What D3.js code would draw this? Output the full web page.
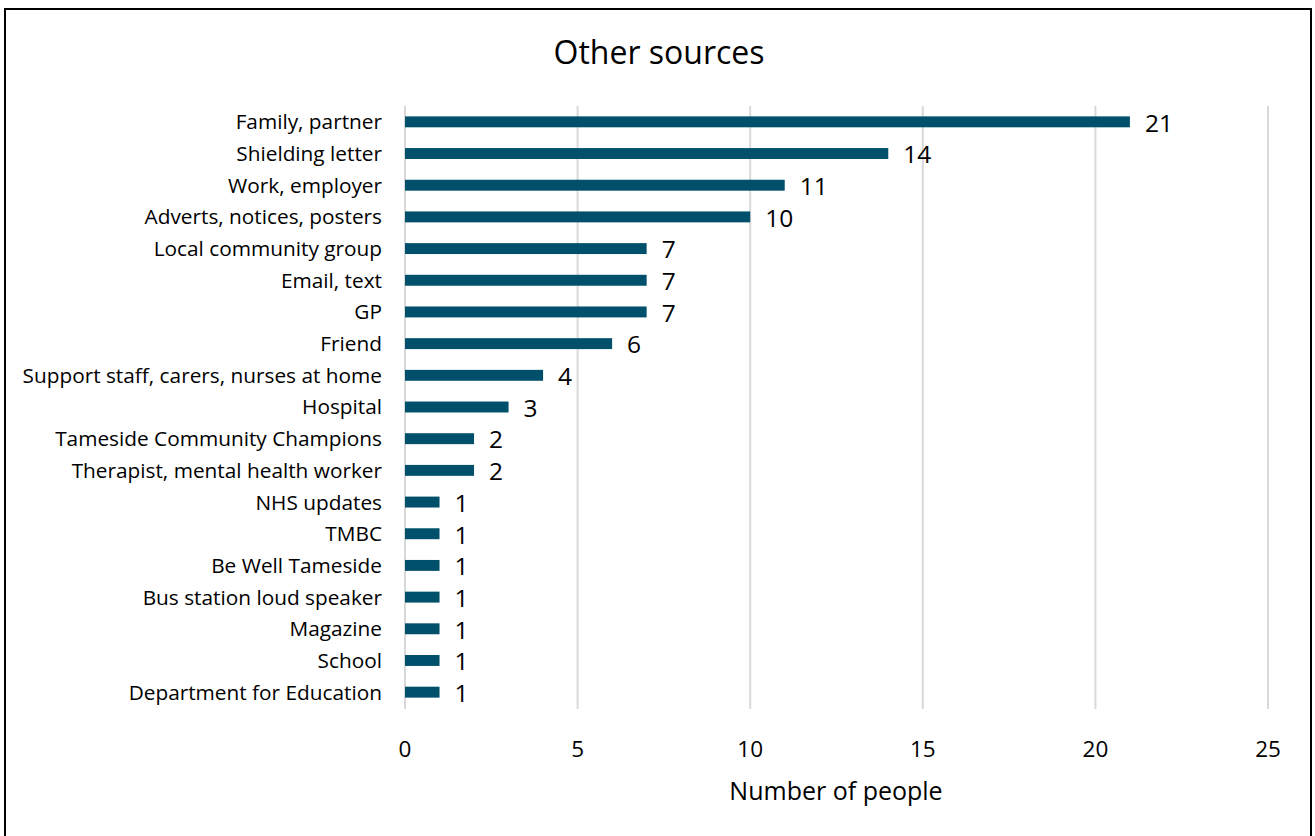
<!DOCTYPE html>
<html><head><meta charset="utf-8">
<script src="https://cdn.jsdelivr.net/npm/d3@7"></script>
<style>body{margin:0;background:#fff}svg{display:block;font-family:"Open Sans",Lato,sans-serif}</style>
</head><body><svg id="c" width="1315" height="836"></svg>
<script>
const categories = ["Family, partner","Shielding letter","Work, employer","Adverts, notices, posters","Local community group","Email, text","GP ","Friend","Support staff, carers, nurses at home","Hospital","Tameside Community Champions","Therapist, mental health worker","NHS updates","TMBC","Be Well Tameside","Bus station loud speaker","Magazine","School","Department for Education"];
const values = [21,14,11,10,7,7,7,6,4,3,2,2,1,1,1,1,1,1,1];
const xTicks = [0,5,10,15,20,25];
const title = "Other sources";
const xTitle = "Number of people";

const svg = d3.select("#c");
svg.append("rect").attr("x",5).attr("y",9).attr("width",1306).attr("height",840)
  .attr("fill","none").attr("stroke","#000").attr("stroke-width",2);

const x = d3.scaleLinear().domain([0,25]).range([405,1268]);
const y = d3.scaleBand().domain(categories).range([106,708]).paddingInner(0.655).paddingOuter(0.3275);

const g = svg.append("g");
g.selectAll("line.grid").data(xTicks).join("line").attr("class","grid")
  .attr("x1",d=>x(d)).attr("x2",d=>x(d)).attr("y1",106).attr("y2",709)
  .attr("stroke","#d9d9d9").attr("stroke-width",2);

g.selectAll("rect.bar").data(values).join("rect").attr("class","bar")
  .attr("x",x(0)).attr("y",(d,i)=>y(categories[i]))
  .attr("width",d=>x(d)-x(0)).attr("height",y.bandwidth())
  .attr("fill","#00506b");

g.selectAll("text.val").data(values).join("text").attr("class","val")
  .attr("x",d=>x(d)+15).attr("y",(d,i)=>y(categories[i])+y.bandwidth()/2)
  .attr("dy","0.4em").attr("font-size",24.5).attr("fill","#000").text(d=>d);

g.selectAll("text.cat").data(categories).join("text").attr("class","cat")
  .attr("x",382).attr("y",d=>y(d)+y.bandwidth()/2).attr("dy","0.36em")
  .attr("text-anchor","end").attr("font-size",20.8).attr("fill","#000").text(d=>d);

g.selectAll("text.tick").data(xTicks).join("text").attr("class","tick")
  .attr("x",d=>x(d)).attr("y",757).attr("text-anchor","middle")
  .attr("font-size",22.5).attr("fill","#000").text(d=>d);

svg.append("text").attr("x",836).attr("y",800).attr("text-anchor","middle")
  .attr("font-size",25).attr("fill","#000").text(xTitle);
svg.append("text").attr("x",659).attr("y",64).attr("text-anchor","middle")
  .attr("font-size",32).attr("fill","#000").text(title);
</script></body></html>
